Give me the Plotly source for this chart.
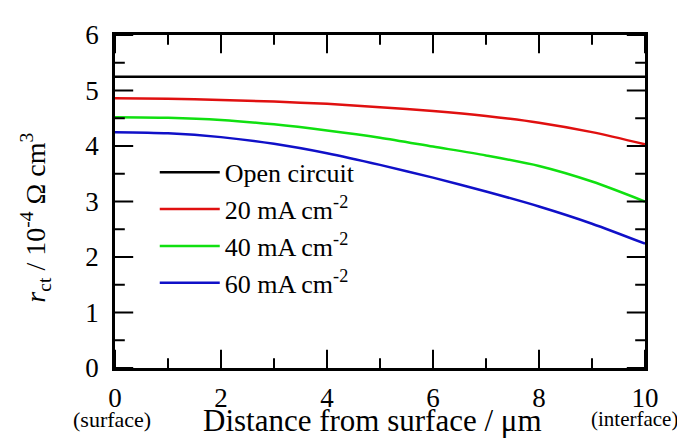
import plotly.graph_objects as go

x_um = [0, 1, 2, 3, 4, 5, 6, 7, 8, 9, 10]
open_circuit = [5.25] * 11
i20 = [4.86, 4.85, 4.83, 4.80, 4.76, 4.70, 4.63, 4.54, 4.42, 4.25, 4.03]
i40 = [4.52, 4.51, 4.47, 4.39, 4.28, 4.15, 3.99, 3.83, 3.64, 3.36, 3.00]
i60 = [4.25, 4.23, 4.16, 4.04, 3.87, 3.66, 3.43, 3.18, 2.91, 2.60, 2.24]

series_names = ["Open circuit", "20 mA cm<sup>-2</sup>", "40 mA cm<sup>-2</sup>", "60 mA cm<sup>-2</sup>"]
series_values = [open_circuit, i20, i40, i60]
series_colors = ["#000000", "#e01010", "#10e010", "#1010c8"]

X_RANGE = [0, 10]
Y_RANGE = [0, 6]
x_major_ticks = [0, 2, 4, 6, 8, 10]
x_minor_ticks = [1, 3, 5, 7, 9]
y_major_ticks = [0, 1, 2, 3, 4, 5, 6]
y_minor_ticks = [0.5, 1.5, 2.5, 3.5, 4.5, 5.5]

FONT = "Liberation Serif"

fig = go.Figure()
for name, vals, col in zip(series_names, series_values, series_colors):
    fig.add_trace(go.Scatter(x=x_um, y=vals, mode="lines", name=name,
                             line=dict(color=col, width=2.5, shape="spline", smoothing=0.8)))


# inward frame ticks on all four sides, drawn as clipped line markers on the axis edges
def tick_trace(xs, ys, symbol, size):
    return go.Scatter(x=xs, y=ys, mode="markers", showlegend=False, hoverinfo="skip",
                      cliponaxis=True,
                      marker=dict(symbol=symbol, size=size, color="black",
                                  line=dict(width=2, color="black")))


for y_edge in Y_RANGE:
    fig.add_trace(tick_trace(x_major_ticks, [y_edge] * len(x_major_ticks), "line-ns", 26))
    fig.add_trace(tick_trace(x_minor_ticks, [y_edge] * len(x_minor_ticks), "line-ns", 14))
for x_edge in X_RANGE:
    fig.add_trace(tick_trace([x_edge] * len(y_major_ticks), y_major_ticks, "line-ew", 26))
    fig.add_trace(tick_trace([x_edge] * len(y_minor_ticks), y_minor_ticks, "line-ew", 14))

fig.update_layout(
    width=685, height=438,
    margin=dict(l=107, r=48, t=17, b=78),
    paper_bgcolor="white", plot_bgcolor="white",
    font=dict(family=FONT, color="black"),
    xaxis=dict(range=X_RANGE, tickvals=x_major_ticks, showline=True, linecolor="black", linewidth=2.5,
               mirror=True, ticks="", showgrid=False, zeroline=False,
               tickfont=dict(family=FONT, size=27, color="black"), ticklabelstandoff=4),
    yaxis=dict(range=Y_RANGE, tickvals=y_major_ticks, showline=True, linecolor="black", linewidth=2.5,
               mirror=True, ticks="", showgrid=False, zeroline=False,
               tickfont=dict(family=FONT, size=27, color="black"), ticklabelstandoff=8),
    showlegend=True,
    legend=dict(x=0.075, y=0.658, xanchor="left", yanchor="top", bgcolor="rgba(0,0,0,0)",
                font=dict(family=FONT, size=26), itemwidth=60, tracegroupgap=0),
)

fig.add_annotation(x=0.485, y=0, xref="paper", yref="paper", text="Distance from surface / μm",
                   showarrow=False, yshift=-52, xanchor="center", yanchor="middle",
                   font=dict(family=FONT, size=31))
fig.add_annotation(x=-0.15, y=0.45, xref="paper", yref="paper",
                   text="<i>r</i><sub>ct</sub> / 10<sup>-4</sup> Ω cm<sup>3</sup>",
                   showarrow=False, textangle=-90, xanchor="center", yanchor="middle",
                   font=dict(family=FONT, size=28))
fig.add_annotation(x=0, y=0, xref="x", yref="paper", text="(surface)", showarrow=False,
                   yshift=-51, xshift=-3, xanchor="center", yanchor="middle", font=dict(family=FONT, size=22))
fig.add_annotation(x=10, y=0, xref="x", yref="paper", text="(interface)", showarrow=False,
                   yshift=-51, xshift=-11, xanchor="center", yanchor="middle", font=dict(family=FONT, size=21))

fig.write_html("out.html")
